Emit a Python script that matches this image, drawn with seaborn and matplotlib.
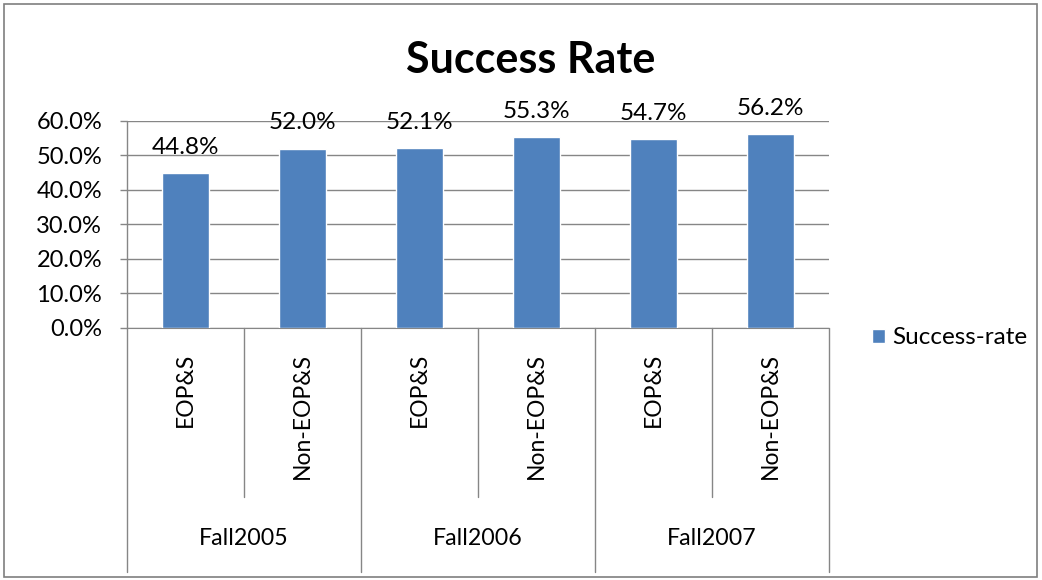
import matplotlib
matplotlib.use("Agg")
import matplotlib.pyplot as plt
import matplotlib.ticker as mtick
import matplotlib.transforms as mtrans
from matplotlib.patches import Rectangle
import seaborn as sns
import pandas as pd

groups = ["Fall2005", "Fall2006", "Fall2007"]
subgroups = ["EOP&S", "Non-EOP&S"]
success_rate = [44.8, 52.0, 52.1, 55.3, 54.7, 56.2]
yticks = [0, 10, 20, 30, 40, 50, 60]

keys = [g + "|" + s for g in groups for s in subgroups]
df = pd.DataFrame({"key": keys, "rate": success_rate})

sns.set_style("white")
plt.rcParams["font.family"] = ["Lato", "DejaVu Sans"]
plt.rcParams["text.color"] = "black"
plt.rcParams["ytick.color"] = "#868686"
plt.rcParams["ytick.labelcolor"] = "black"

fig = plt.figure(figsize=(10.42, 5.8), dpi=100)
ax = fig.add_axes([0.1219, 0.4345, 0.6737, 0.3569])

sns.barplot(data=df, x="key", y="rate", order=keys, color="#4F81BD",
            width=0.4, saturation=1, ax=ax, label="Success-rate", zorder=3)

grid_c = "#868686"
ax.set_ylim(0, 60)
ax.set_xlim(-0.5, len(keys) - 0.5)
ax.set_yticks(yticks)
ax.yaxis.set_major_formatter(mtick.FuncFormatter(lambda v, p: f"{v:.1f}%"))
ax.tick_params(axis="y", labelsize=17, length=5, width=1, pad=13, left=True)
ax.tick_params(axis="x", bottom=False, labelbottom=False)
ax.grid(axis="y", color=grid_c, linewidth=1, zorder=0)
ax.set_xlabel("")
ax.set_ylabel("")
for s in ["top", "right", "left"]:
    ax.spines[s].set_visible(False)
ax.spines["bottom"].set_color(grid_c)

# value labels
for i, v in enumerate(success_rate):
    ax.annotate(f"{v:.1f}%", (i, v), xytext=(0, 14), textcoords="offset points",
                ha="center", va="baseline", fontsize=17.5)

# category axis labels and separators
tr = mtrans.blended_transform_factory(ax.transData, ax.transAxes)
for i, k in enumerate(keys):
    sub = k.split("|")[1]
    ax.text(i, -0.12, sub, transform=tr, rotation=90, ha="center", va="top", fontsize=16.5)
for j, g in enumerate(groups):
    ax.text(2 * j + 0.5, -1.015, g, transform=tr, ha="center", va="center", fontsize=16.7)
for b in range(len(keys) + 1):
    xb = b - 0.5
    y_end = -1.179 if b % 2 == 0 else -0.816
    ax.plot([xb, xb], [1.0 if b == 0 else 0, y_end], transform=tr, color=grid_c,
            linewidth=1, clip_on=False, zorder=1)

ax.legend(loc="center left", bbox_to_anchor=(1.061, -0.048), frameon=False,
          fontsize=17.5, handlelength=0.55, handleheight=0.55, handletextpad=0.3,
          borderpad=0, borderaxespad=0)

fig.text(0.509, 0.897, "Success Rate", ha="center", va="center", fontsize=31, fontweight="bold")
fig.add_artist(Rectangle((0.004, 0.006), 0.991, 0.987, transform=fig.transFigure,
                         fill=False, edgecolor="#7f7f7f", linewidth=1.2))

fig.savefig("out.png", dpi=100)
